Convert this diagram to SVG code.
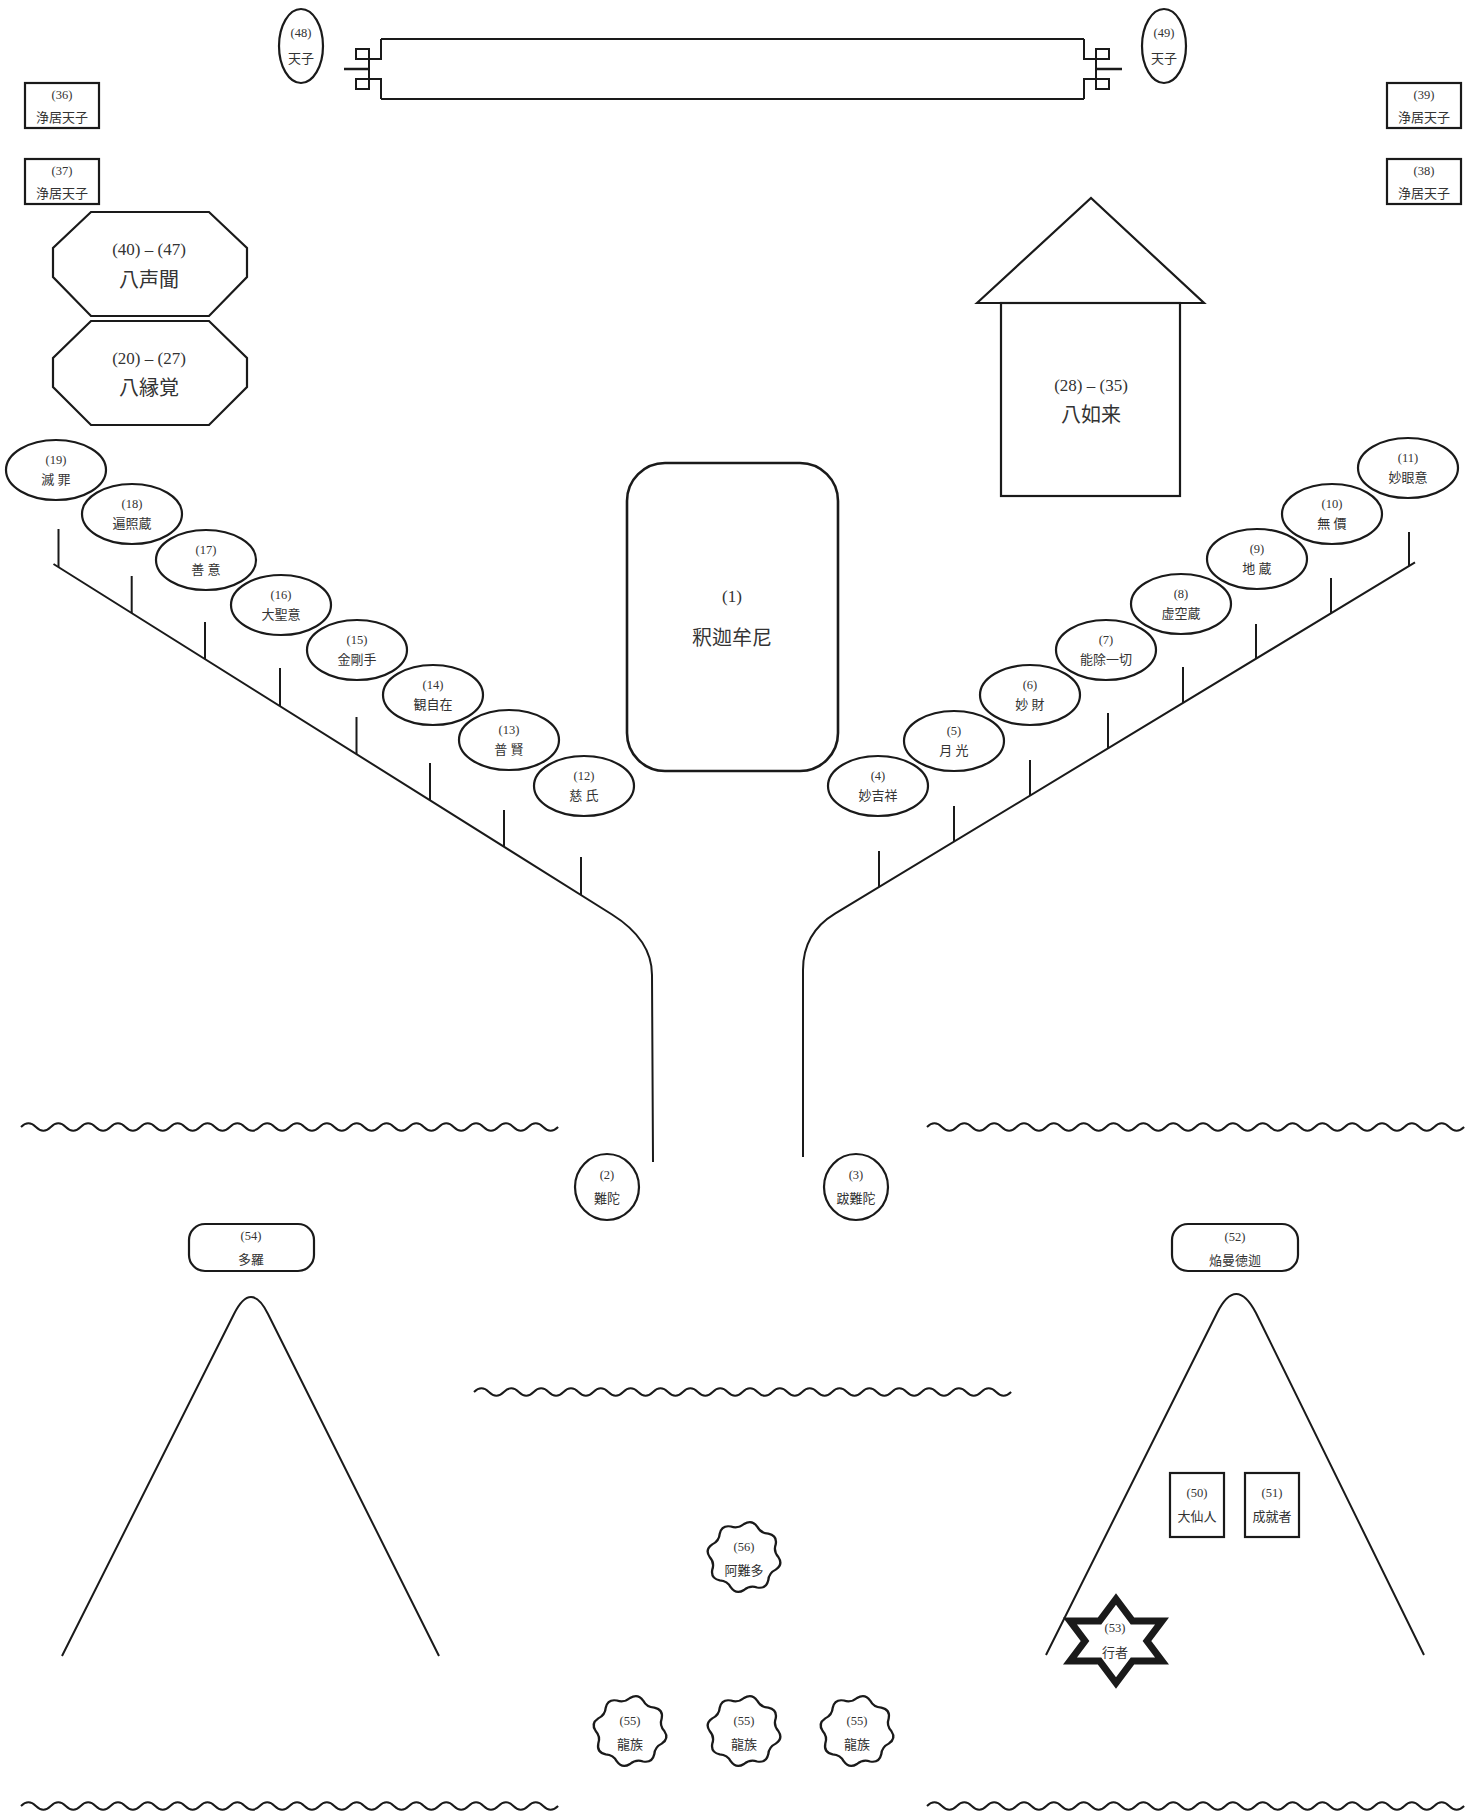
<svg xmlns="http://www.w3.org/2000/svg" xmlns:xlink="http://www.w3.org/1999/xlink" width="1478" height="1813" viewBox="0 0 1478 1813">
<style>
.ln{fill:none;stroke:#1a1a1a;stroke-width:2;stroke-linecap:butt;stroke-linejoin:miter}
.sh{fill:#fff;stroke:#1a1a1a;stroke-width:2.2}
.t{font-family:'Liberation Serif','Noto Sans CJK JP',serif;fill:#333;text-anchor:middle;dominant-baseline:central}
.s{font-size:12.5px}
.m{font-size:13px}
.b{font-size:17px}
.l{font-size:20px}
</style>
<defs>
<path id="cloud" d="M33,0 Q37.91,7.54 30.49,12.63 Q23.82,15.92 23.33,23.33 Q21.47,32.14 12.63,30.49 Q5.59,28.10 0,33 Q-7.54,37.91 -12.63,30.49 Q-15.92,23.82 -23.33,23.33 Q-32.14,21.47 -30.49,12.63 Q-28.10,5.59 -33,0 Q-37.91,-7.54 -30.49,-12.63 Q-23.82,-15.92 -23.33,-23.33 Q-21.47,-32.14 -12.63,-30.49 Q-5.59,-28.10 0,-33 Q7.54,-37.91 12.63,-30.49 Q15.92,-23.82 23.33,-23.33 Q32.14,-21.47 30.49,-12.63 Q28.10,-5.59 33,0 Z"/>
<path id="wave" d="M0,0 q7.46,-7.5 14.92,0 t14.92,0 t14.92,0 t14.92,0 t14.92,0 t14.92,0 t14.92,0 t14.92,0 t14.92,0 t14.92,0 t14.92,0 t14.92,0 t14.92,0 t14.92,0 t14.92,0 t14.92,0 t14.92,0 t14.92,0 t14.92,0 t14.92,0 t14.92,0 t14.92,0 t14.92,0 t14.92,0 t14.92,0 t14.92,0 t14.92,0 t14.92,0 t14.92,0 t14.92,0 t14.92,0 t14.92,0 t14.92,0 t14.92,0 t14.92,0 t14.92,0"/>
</defs>

<!-- scenery: waves and mountains -->
<g id="scenery" class="ln">
<use xlink:href="#wave" href="#wave" x="21" y="1127"/>
<use xlink:href="#wave" href="#wave" x="927" y="1127"/>
<use xlink:href="#wave" href="#wave" x="474" y="1392"/>
<use xlink:href="#wave" href="#wave" x="21" y="1806"/>
<use xlink:href="#wave" href="#wave" x="927" y="1806"/>
<path d="M62,1656 L234,1314 Q251,1280 268,1314 L439,1656"/>
<path d="M1046,1655 L1217,1313 Q1236,1275 1256,1313 L1424,1655"/>
</g>

<!-- connectors: tree branches -->
<g id="connectors" class="ln">
<path d="M53.5,564 L612,914.5 Q652,939.6 652,975 L653,1162"/>
<path d="M1415,562.4 L835,913.7 Q803,933 803,970 L803,1157"/>
<path d="M58.5,529 V567.1 M131.7,576 V613.1 M205,622 V659.1 M280,668 V706.1 M356.5,717 V754.1 M430,763 V800.3 M504,810 V846.7 M581,857 V895"/>
<path d="M1409,532 V566 M1331,578 V613.2 M1256,624 V658.7 M1183,667 V702.9 M1108,713 V748.3 M1030,760 V795.6 M954,806 V841.6 M879,851 V887"/>
</g>

<!-- scroll -->
<g id="scroll" class="ln">
<path d="M381,39 L1084,39 M381,99 L1084,99"/>
<path d="M381,39 L381,59 L356,59 L356,49 L369,49 L369,89 L356,89 L356,79 L381,79 L381,99"/>
<path d="M1084,39 L1084,59 L1109,59 L1109,49 L1096,49 L1096,89 L1109,89 L1109,79 L1084,79 L1084,99"/>
<path d="M344,69 L369,69 M1096,69 L1122,69" style="stroke-width:2.6"/>
</g>

<g id="n48"><ellipse class="sh" cx="301" cy="46" rx="22" ry="37"/><text class="t s" x="301" y="33">(48)</text><text class="t m" x="301" y="58">天子</text></g>
<g id="n49"><ellipse class="sh" cx="1164" cy="46" rx="22" ry="37"/><text class="t s" x="1164" y="33">(49)</text><text class="t m" x="1164" y="58">天子</text></g>

<g id="n36"><rect class="sh" x="25" y="83" width="74" height="45"/><text class="t s" x="62" y="95">(36)</text><text class="t m" x="62" y="117">浄居天子</text></g>
<g id="n37"><rect class="sh" x="25" y="159" width="74" height="45"/><text class="t s" x="62" y="171">(37)</text><text class="t m" x="62" y="193">浄居天子</text></g>
<g id="n39"><rect class="sh" x="1387" y="83" width="74" height="45"/><text class="t s" x="1424" y="95">(39)</text><text class="t m" x="1424" y="117">浄居天子</text></g>
<g id="n38"><rect class="sh" x="1387" y="159" width="74" height="45"/><text class="t s" x="1424" y="171">(38)</text><text class="t m" x="1424" y="193">浄居天子</text></g>

<g id="n40-47"><polygon class="sh" points="91,212 209,212 247,248 247,277 209,316 91,316 53,277 53,248"/><text class="t b" x="149" y="249">(40) – (47)</text><text class="t l" x="149" y="280">八声聞</text></g>
<g id="n20-27"><polygon class="sh" points="91,321 209,321 247,358 247,387 209,425 91,425 53,387 53,358"/><text class="t b" x="149" y="358">(20) – (27)</text><text class="t l" x="149" y="388">八縁覚</text></g>

<g id="n28-35"><polygon class="sh" points="977,303 1091,198 1204,303"/><rect class="sh" x="1001" y="303" width="179" height="193"/><text class="t b" x="1091" y="385">(28) – (35)</text><text class="t l" x="1091" y="415">八如来</text></g>

<g id="n1"><rect class="sh" x="627" y="463" width="211" height="308" rx="38" ry="38" style="stroke-width:2.6"/><text class="t b" x="732" y="596">(1)</text><text class="t l" x="732" y="638">釈迦牟尼</text></g>

<g id="n19"><ellipse class="sh" cx="56" cy="470" rx="50" ry="30"/><text class="t s" x="56" y="460">(19)</text><text class="t m" x="56" y="479">滅 罪</text></g>
<g id="n18"><ellipse class="sh" cx="132" cy="514" rx="50" ry="30"/><text class="t s" x="132" y="504">(18)</text><text class="t m" x="132" y="523">遍照蔵</text></g>
<g id="n17"><ellipse class="sh" cx="206" cy="560" rx="50" ry="30"/><text class="t s" x="206" y="550">(17)</text><text class="t m" x="206" y="569">善 意</text></g>
<g id="n16"><ellipse class="sh" cx="281" cy="605" rx="50" ry="30"/><text class="t s" x="281" y="595">(16)</text><text class="t m" x="281" y="614">大聖意</text></g>
<g id="n15"><ellipse class="sh" cx="357" cy="650" rx="50" ry="30"/><text class="t s" x="357" y="640">(15)</text><text class="t m" x="357" y="659">金剛手</text></g>
<g id="n14"><ellipse class="sh" cx="433" cy="695" rx="50" ry="30"/><text class="t s" x="433" y="685">(14)</text><text class="t m" x="433" y="704">観自在</text></g>
<g id="n13"><ellipse class="sh" cx="509" cy="740" rx="50" ry="30"/><text class="t s" x="509" y="730">(13)</text><text class="t m" x="509" y="749">普 賢</text></g>
<g id="n12"><ellipse class="sh" cx="584" cy="786" rx="50" ry="30"/><text class="t s" x="584" y="776">(12)</text><text class="t m" x="584" y="795">慈 氏</text></g>

<g id="n11"><ellipse class="sh" cx="1408" cy="468" rx="50" ry="30"/><text class="t s" x="1408" y="458">(11)</text><text class="t m" x="1408" y="477">妙眼意</text></g>
<g id="n10"><ellipse class="sh" cx="1332" cy="514" rx="50" ry="30"/><text class="t s" x="1332" y="504">(10)</text><text class="t m" x="1332" y="523">無 價</text></g>
<g id="n9"><ellipse class="sh" cx="1257" cy="559" rx="50" ry="30"/><text class="t s" x="1257" y="549">(9)</text><text class="t m" x="1257" y="568">地 蔵</text></g>
<g id="n8"><ellipse class="sh" cx="1181" cy="604" rx="50" ry="30"/><text class="t s" x="1181" y="594">(8)</text><text class="t m" x="1181" y="613">虚空蔵</text></g>
<g id="n7"><ellipse class="sh" cx="1106" cy="650" rx="50" ry="30"/><text class="t s" x="1106" y="640">(7)</text><text class="t m" x="1106" y="659">能除一切</text></g>
<g id="n6"><ellipse class="sh" cx="1030" cy="695" rx="50" ry="30"/><text class="t s" x="1030" y="685">(6)</text><text class="t m" x="1030" y="704">妙 財</text></g>
<g id="n5"><ellipse class="sh" cx="954" cy="741" rx="50" ry="30"/><text class="t s" x="954" y="731">(5)</text><text class="t m" x="954" y="750">月 光</text></g>
<g id="n4"><ellipse class="sh" cx="878" cy="786" rx="50" ry="30"/><text class="t s" x="878" y="776">(4)</text><text class="t m" x="878" y="795">妙吉祥</text></g>

<g id="n2"><ellipse class="sh" cx="607" cy="1187" rx="32" ry="33"/><text class="t s" x="607" y="1175">(2)</text><text class="t m" x="607" y="1198">難陀</text></g>
<g id="n3"><ellipse class="sh" cx="856" cy="1187" rx="32" ry="33"/><text class="t s" x="856" y="1175">(3)</text><text class="t m" x="856" y="1198">跋難陀</text></g>

<g id="n54"><rect class="sh" x="189" y="1224" width="125" height="47" rx="16" ry="16"/><text class="t s" x="251" y="1236">(54)</text><text class="t m" x="251" y="1259">多羅</text></g>
<g id="n52"><rect class="sh" x="1172" y="1224" width="126" height="47" rx="16" ry="16"/><text class="t s" x="1235" y="1237">(52)</text><text class="t m" x="1235" y="1260">焔曼徳迦</text></g>

<g id="n50"><rect class="sh" x="1170" y="1473" width="54" height="64"/><text class="t s" x="1197" y="1493">(50)</text><text class="t m" x="1197" y="1516">大仙人</text></g>
<g id="n51"><rect class="sh" x="1245" y="1473" width="54" height="64"/><text class="t s" x="1272" y="1493">(51)</text><text class="t m" x="1272" y="1516">成就者</text></g>

<g id="n53"><path d="M1116,1599 L1132.5,1621 L1162,1621 L1147,1641 L1162,1661 L1132.5,1661 L1116,1683 L1099.5,1661 L1070,1661 L1085,1641 L1070,1621 L1099.5,1621 Z" style="fill:#fff;stroke:#1a1a1a;stroke-width:7;stroke-linejoin:miter"/><text class="t s" x="1115" y="1628">(53)</text><text class="t m" x="1115" y="1652">行者</text></g>

<g id="n56"><use xlink:href="#cloud" href="#cloud" class="sh" transform="translate(744,1557) scale(1.04,1)"/><text class="t s" x="744" y="1547">(56)</text><text class="t m" x="744" y="1570">阿難多</text></g>
<g id="n55a"><use xlink:href="#cloud" href="#cloud" class="sh" transform="translate(630,1731) scale(1.04,1)"/><text class="t s" x="630" y="1721">(55)</text><text class="t m" x="630" y="1744">龍族</text></g>
<g id="n55b"><use xlink:href="#cloud" href="#cloud" class="sh" transform="translate(744,1731) scale(1.04,1)"/><text class="t s" x="744" y="1721">(55)</text><text class="t m" x="744" y="1744">龍族</text></g>
<g id="n55c"><use xlink:href="#cloud" href="#cloud" class="sh" transform="translate(857,1731) scale(1.04,1)"/><text class="t s" x="857" y="1721">(55)</text><text class="t m" x="857" y="1744">龍族</text></g>
</svg>
